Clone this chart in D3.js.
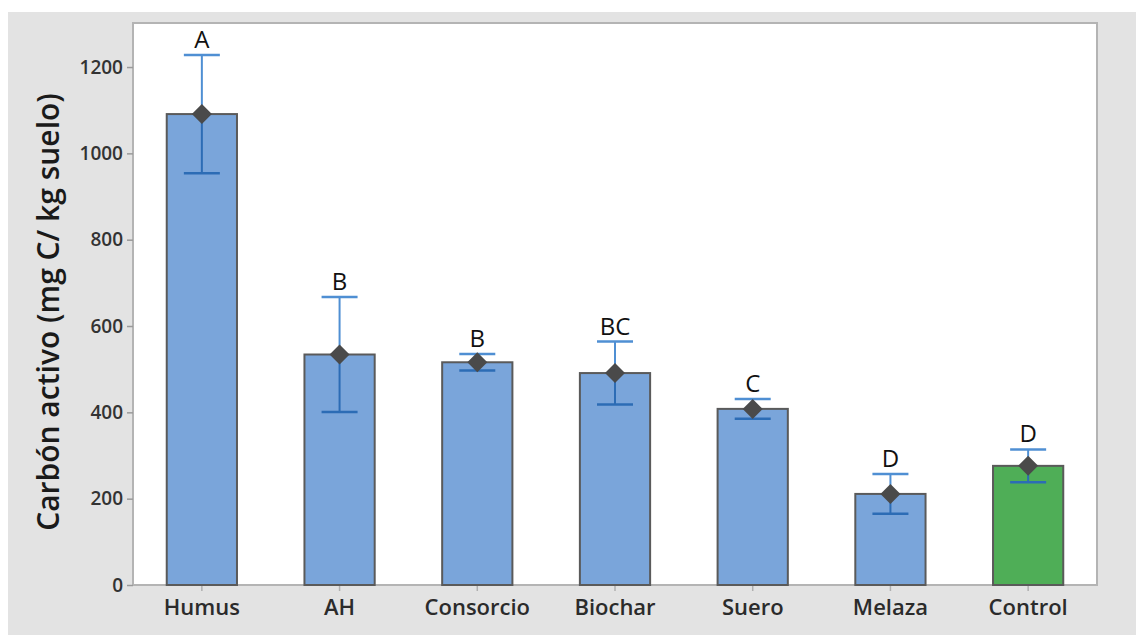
<!DOCTYPE html>
<html><head><meta charset="utf-8">
<script src="https://cdn.jsdelivr.net/npm/d3@7"></script>
<style>
html,body{margin:0;padding:0;background:#fff;}
svg{display:block;}
</style></head>
<body>
<script>
const categories = ["Humus","AH","Consorcio","Biochar","Suero","Melaza","Control"];
const means = [1091, 534, 516, 491, 408, 211, 276];
const errors = [137, 133, 19, 73, 23, 46, 38];
const groups = ["A","B","B","BC","C","D","D"];
const yTicks = [0,200,400,600,800,1000,1200];
const barColors = ["#7aa5da","#7aa5da","#7aa5da","#7aa5da","#7aa5da","#7aa5da","#4fae57"];

const W = 1136, H = 635;
const m = {left:133, top:23, right:1097, bottom:585};
const svg = d3.select("body").append("svg").attr("width",W).attr("height",H);
svg.append("rect").attr("x",8).attr("y",12).attr("width",W-8).attr("height",H-12).attr("fill","#e3e3e3");
svg.append("rect").attr("x",m.left).attr("y",m.top).attr("width",m.right-m.left).attr("height",m.bottom-m.top)
  .attr("fill","#fff").attr("stroke","#b4b4b4").attr("stroke-width",2);

const x = d3.scaleBand().domain(categories).range([m.left,m.right]).paddingInner(0.49).paddingOuter(0.245);
const y = d3.scaleLinear().domain([0,1302]).range([m.bottom,m.top]);

const font = "'Open Sans','Noto Sans',sans-serif";

// axes
const yAxis = svg.append("g").attr("transform",`translate(${m.left},0)`)
  .call(d3.axisLeft(y).tickValues(yTicks).tickFormat(d3.format("d")).tickSize(6).tickPadding(4));
yAxis.select(".domain").remove();
yAxis.selectAll("line").attr("stroke","#9a9a9a").attr("stroke-width",1.5);
yAxis.selectAll("text").attr("font-family",font).attr("font-size",19).attr("font-weight",600).attr("fill","#333");

const xAxis = svg.append("g").attr("transform",`translate(0,${m.bottom})`)
  .call(d3.axisBottom(x).tickSize(6).tickPadding(8));
xAxis.select(".domain").remove();
xAxis.selectAll("line").attr("stroke","#b0b0b0").attr("stroke-width",1.5);
xAxis.selectAll("text").attr("font-family",font).attr("font-size",22).attr("font-weight",600).attr("fill","#2b2b2b");

// bars
const data = categories.map((c,i)=>({c, v:means[i], e:errors[i], g:groups[i], col:barColors[i]}));
svg.append("g").selectAll("rect").data(data).join("rect")
  .attr("x",d=>x(d.c)).attr("y",d=>y(d.v)).attr("width",x.bandwidth()).attr("height",d=>y(0)-y(d.v))
  .attr("fill",d=>d.col).attr("stroke","#5a5a5a").attr("stroke-width",2);

// error bars
const eg = svg.append("g");
data.forEach(d=>{
  const cx = x(d.c)+x.bandwidth()/2;
  const capW = 18;
  eg.append("line").attr("x1",cx).attr("x2",cx).attr("y1",y(d.v+d.e)).attr("y2",y(d.v))
    .attr("stroke","#4f8fd3").attr("stroke-width",2);
  eg.append("line").attr("x1",cx).attr("x2",cx).attr("y1",y(d.v)).attr("y2",y(d.v-d.e))
    .attr("stroke","#2c6cb5").attr("stroke-width",2);
  eg.append("line").attr("x1",cx-capW).attr("x2",cx+capW).attr("y1",y(d.v+d.e)).attr("y2",y(d.v+d.e))
    .attr("stroke","#4f8fd3").attr("stroke-width",2.5);
  eg.append("line").attr("x1",cx-capW).attr("x2",cx+capW).attr("y1",y(d.v-d.e)).attr("y2",y(d.v-d.e))
    .attr("stroke","#2c6cb5").attr("stroke-width",2.5);
});

// markers
svg.append("g").selectAll("path").data(data).join("path")
  .attr("transform",d=>`translate(${x(d.c)+x.bandwidth()/2},${y(d.v)})`)
  .attr("d","M0,-10L10,0L0,10L-10,0Z").attr("fill","#4a4a4a");

// letters
svg.append("g").selectAll("text").data(data).join("text")
  .attr("x",d=>x(d.c)+x.bandwidth()/2).attr("y",d=>y(d.v+d.e)-7)
  .attr("text-anchor","middle").attr("font-family",font).attr("font-size",24).attr("fill","#111")
  .text(d=>d.g);

// y title
svg.append("text").attr("transform",`translate(59,${(m.top+m.bottom)/2+8}) rotate(-90)`)
  .attr("text-anchor","middle").attr("font-family",font).attr("font-size",30).attr("font-weight",600).attr("fill","#1a1a1a")
  .text("Carbón activo (mg C/ kg suelo)");
</script>
</body></html>
